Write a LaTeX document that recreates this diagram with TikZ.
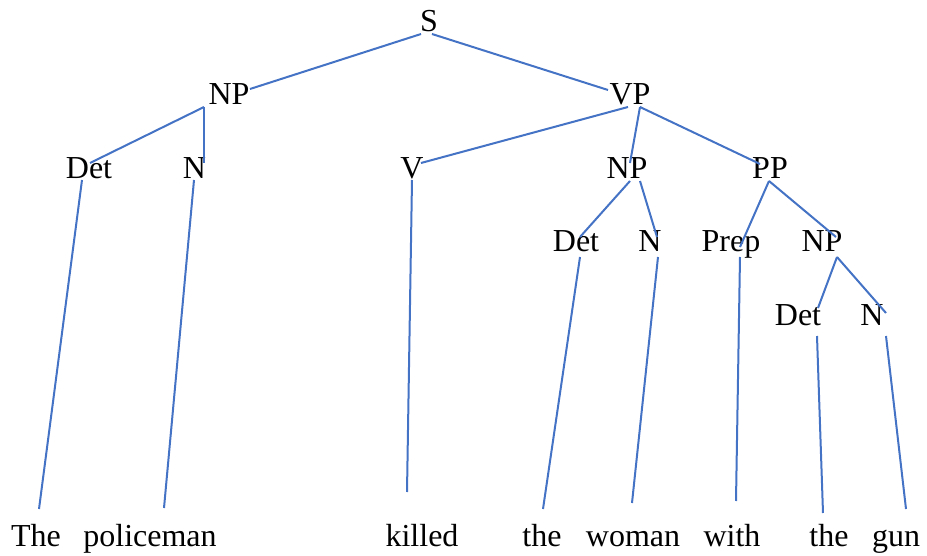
\documentclass[tikz,border=0pt]{standalone}
\usepackage{fontspec}
\setmainfont{Liberation Serif}
\definecolor{branch}{HTML}{4472C4}
\begin{document}
\begin{tikzpicture}[x=1pt,y=-1pt,
  lbl/.style={anchor=base,inner sep=0pt,font=\fontsize{32}{38}\selectfont},
  edge/.style={draw=branch,line width=2pt}]
\useasboundingbox (0,0) rectangle (927,556);
% category labels
\node[lbl] (S)    at (429,32)  {S};
\node[lbl] (NPa)  at (229,105) {NP};
\node[lbl] (VP)   at (630,105) {VP};
\node[lbl] (Deta) at (89,179)  {Det};
\node[lbl] (Na)   at (194.5,179) {N};
\node[lbl] (V)    at (412,179) {V};
\node[lbl] (NPb)  at (627,179) {NP};
\node[lbl] (PP)   at (770,179) {PP};
\node[lbl] (Detb) at (576,252) {Det};
\node[lbl] (Nb)   at (650,252) {N};
\node[lbl] (Prep) at (731,252) {Prep};
\node[lbl] (NPc)  at (822,252) {NP};
\node[lbl] (Detc) at (798,325) {Det};
\node[lbl] (Nc)   at (872,325) {N};
% words
\node[lbl] (w1) at (36,546)  {The};
\node[lbl] (w2) at (150,546) {policeman};
\node[lbl] (w3) at (422,546) {killed};
\node[lbl] (w4) at (542,546) {the};
\node[lbl] (w5) at (633,546) {woman};
\node[lbl] (w6) at (732,546) {with};
\node[lbl] (w7) at (829,546) {the};
\node[lbl] (w8) at (896,546) {gun};
% branches
\path[edge] ([shift={(-8,2)}]S.base) -- ([shift={(21,-16)}]NPa.base);
\path[edge] ([shift={(3,2)}]S.base) -- ([shift={(-22,-15)}]VP.base);
\path[edge] ([shift={(-25,2)}]NPa.base) -- ([shift={(1,-16)}]Deta.base);
\path[edge] ([shift={(-25,2)}]NPa.base) -- ([shift={(9.5,-16)}]Na.base);
\path[edge] ([shift={(-2,2)}]VP.base) -- ([shift={(9,-16)}]V.base);
\path[edge] ([shift={(10,2)}]VP.base) -- ([shift={(3,-16)}]NPb.base);
\path[edge] ([shift={(10,2)}]VP.base) -- ([shift={(-10,-15)}]PP.base);
\path[edge] ([shift={(3,2)}]NPb.base) -- ([shift={(4,-15)}]Detb.base);
\path[edge] ([shift={(13,2)}]NPb.base) -- ([shift={(7,-15)}]Nb.base);
\path[edge] ([shift={(-1,2)}]PP.base) -- ([shift={(9,-5)}]Prep.base);
\path[edge] ([shift={(-1,2)}]PP.base) -- ([shift={(14,-15)}]NPc.base);
\path[edge] ([shift={(15,5)}]NPc.base) -- ([shift={(20,-17)}]Detc.base);
\path[edge] ([shift={(15,5)}]NPc.base) -- ([shift={(14,-12)}]Nc.base);
% leaves
\path[edge] ([shift={(-7,1)}]Deta.base) -- ([shift={(3,-37)}]w1.base);
\path[edge] ([shift={(-0.5,1)}]Na.base) -- ([shift={(14,-38)}]w2.base);
\path[edge] ([shift={(0,1)}]V.base) -- ([shift={(-15,-54)}]w3.base);
\path[edge] ([shift={(4,5)}]Detb.base) -- ([shift={(1,-37)}]w4.base);
\path[edge] ([shift={(8,5)}]Nb.base) -- ([shift={(-1,-43)}]w5.base);
\path[edge] ([shift={(9,5)}]Prep.base) -- ([shift={(4,-45)}]w6.base);
\path[edge] ([shift={(19,11)}]Detc.base) -- ([shift={(-6,-33)}]w7.base);
\path[edge] ([shift={(14,11)}]Nc.base) -- ([shift={(10,-37)}]w8.base);
\end{tikzpicture}
\end{document}
